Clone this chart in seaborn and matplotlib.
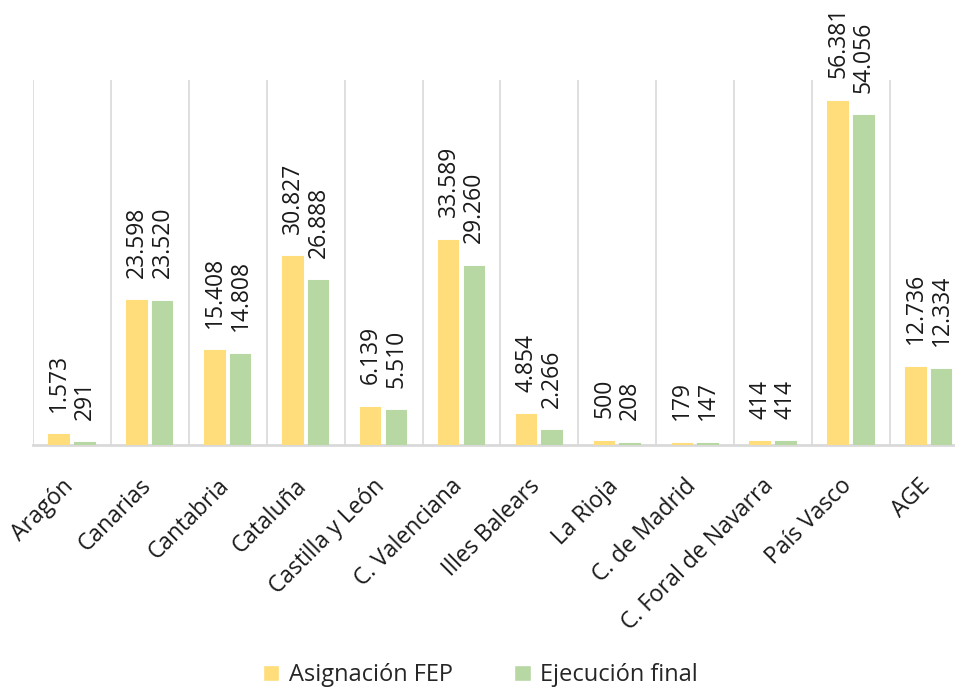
import matplotlib
matplotlib.use("Agg")
import matplotlib.pyplot as plt
import matplotlib.transforms as mtransforms
import seaborn as sns
import pandas as pd
import numpy as np

regions = ["Aragón", "Canarias", "Cantabria", "Cataluña", "Castilla y León",
           "C. Valenciana", "Illes Balears", "La Rioja", "C. de Madrid",
           "C. Foral de Navarra", "País Vasco", "AGE"]
asignacion = [1573, 23598, 15408, 30827, 6139, 33589, 4854, 500, 179, 414, 56381, 12736]
ejecucion = [291, 23520, 14808, 26888, 5510, 29260, 2266, 208, 147, 414, 54056, 12334]
series = ["Asignación FEP", "Ejecución final"]
colors = ["#FEDD7A", "#B7D7A3"]

df = pd.DataFrame({
    "region": regions * 2,
    "valor": asignacion + ejecucion,
    "serie": [series[0]] * len(regions) + [series[1]] * len(regions),
})

sns.set_theme(style="white")
plt.rcParams["font.family"] = ["Open Sans", "DejaVu Sans"]

fig = plt.figure(figsize=(9.55, 6.92), dpi=100)
ax = fig.add_axes([33 / 955, (692 - 445) / 692, 12 * 77.9 / 955, (445 - 80) / 692])

sns.barplot(data=df, x="region", y="valor", hue="serie", palette=colors,
            width=0.66, gap=0.24, ax=ax, legend=True, saturation=1)

for cont, col in zip(ax.containers, colors):
    for p in cont.patches:
        p.set_edgecolor(col)
        p.set_linewidth(1.5)
        p.set_zorder(3)

def fmt(v):
    return f"{v:,}".replace(",", ".")

for cont, vals in zip(ax.containers, [asignacion, ejecucion]):
    ax.bar_label(cont, labels=[fmt(v) for v in vals], rotation=90, padding=17,
                 fontsize=16.5, color="#1a1a1a")

ax.set_xlim(-0.5, len(regions) - 0.5)
ax.set_ylim(0, 60000)
ax.set_yticks([])
ax.set_xlabel("")
ax.set_ylabel("")

ax.set_xticks(np.arange(len(regions) + 1) - 0.5, minor=True)
ax.grid(True, which="minor", axis="x", color="#D9D9D9", lw=1.2)
ax.grid(False, which="major")
ax.tick_params(axis="x", which="both", length=0)
ax.tick_params(axis="x", which="major", pad=21)
ax.set_xticks(np.arange(len(regions)))
ax.set_xticklabels(regions, rotation=45, ha="right", fontsize=16.5, color="#1a1a1a")
shift = mtransforms.ScaledTranslation(6 / 100, 0, fig.dpi_scale_trans)
for lbl in ax.get_xticklabels():
    lbl.set_transform(lbl.get_transform() + shift)

for s in ["top", "right", "left"]:
    ax.spines[s].set_visible(False)
ax.spines["bottom"].set_color("#D9D9D9")
ax.spines["bottom"].set_linewidth(2)
ax.spines["bottom"].set_zorder(1)

handles, labels = ax.get_legend_handles_labels()
ax.get_legend().remove()
fig.legend(handles, labels, loc="lower center", bbox_to_anchor=(0.503, -0.024),
           ncol=2, frameon=False, fontsize=17, handlelength=0.7, handleheight=0.7,
           handletextpad=0.4, columnspacing=2.6)

fig.savefig("out.png", dpi=100)
